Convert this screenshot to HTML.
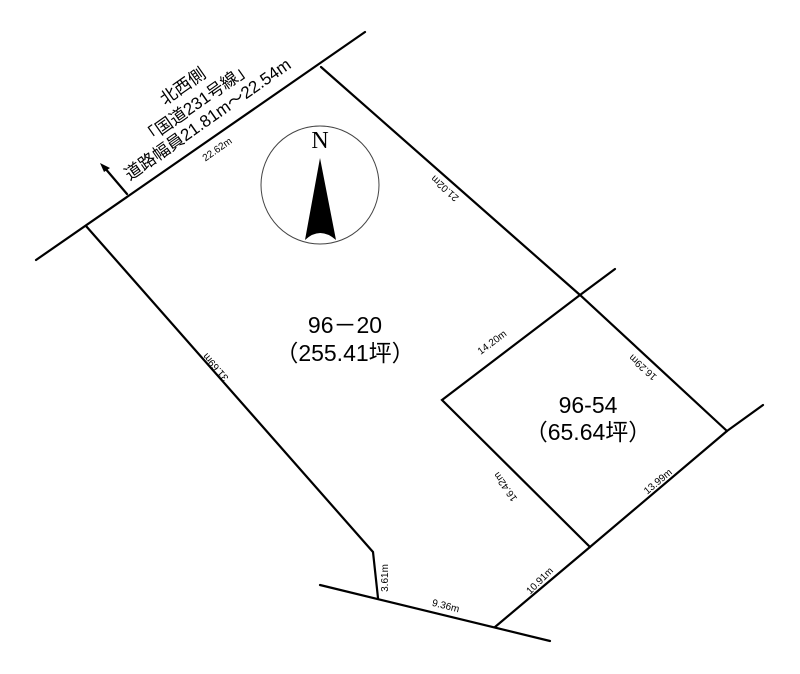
<!DOCTYPE html>
<html><head><meta charset="utf-8"><style>html,body{margin:0;padding:0;background:#fff}svg{display:block}</style></head>
<body>
<svg width="800" height="674" viewBox="0 0 800 674" xmlns="http://www.w3.org/2000/svg" font-family="Liberation Sans, Noto Sans CJK JP, sans-serif">
<g stroke="#000" stroke-width="2.2" fill="none" stroke-linecap="round">
<line x1="36" y1="260" x2="365" y2="32"/>
<polyline points="86,226 373,552 378,598"/>
<line x1="320" y1="585" x2="550" y2="641"/>
<polyline points="321,67 580,295 727,431 763,405"/>
<polyline points="615,269 580,295 442,400 590,547 727,431"/>
<line x1="495" y1="627" x2="590" y2="547"/>
<line x1="127" y1="194" x2="104" y2="167"/>
</g>
<polygon points="100,163 110,168 104,172" fill="#000"/>
<circle cx="320" cy="185" r="59" fill="none" stroke="#444" stroke-width="1"/>
<path d="M320,158 L336,240 Q320,226 305,240 Z" fill="#000"/>
<text x="320" y="148" font-family="Liberation Serif, serif" font-size="24" text-anchor="middle">N</text>
<g font-size="17" text-anchor="middle">
<text transform="translate(186,91) rotate(-35)">北西側</text>
<text transform="translate(200,108) rotate(-35)">「国道231号線」</text>
<text transform="translate(211,124) rotate(-35)">道路幅員21.81m～22.54m</text>
</g>
<g font-size="10" text-anchor="middle">
<text transform="translate(219,152) rotate(-35)">22.62m</text>
<text transform="translate(447,186) rotate(222)">21.02m</text>
<text transform="translate(218,365) rotate(229)">31.69m</text>
<text transform="translate(494,345) rotate(-37)">14.20m</text>
<text transform="translate(645,365) rotate(222)">16.29m</text>
<text transform="translate(508,485) rotate(235)">16.42m</text>
<text transform="translate(660,484) rotate(-40)">13.99m</text>
<text transform="translate(542,583) rotate(-45)">10.91m</text>
<text transform="translate(388,578) rotate(-90)">3.61m</text>
<text transform="translate(445,609) rotate(14)">9.36m</text>
</g>
<g font-size="23" text-anchor="middle">
<text x="345" y="333">96－20</text>
<text x="345" y="361">（255.41坪）</text>
<text x="588" y="413">96-54</text>
<text x="588" y="440">（65.64坪）</text>
</g>
</svg>
</body></html>
